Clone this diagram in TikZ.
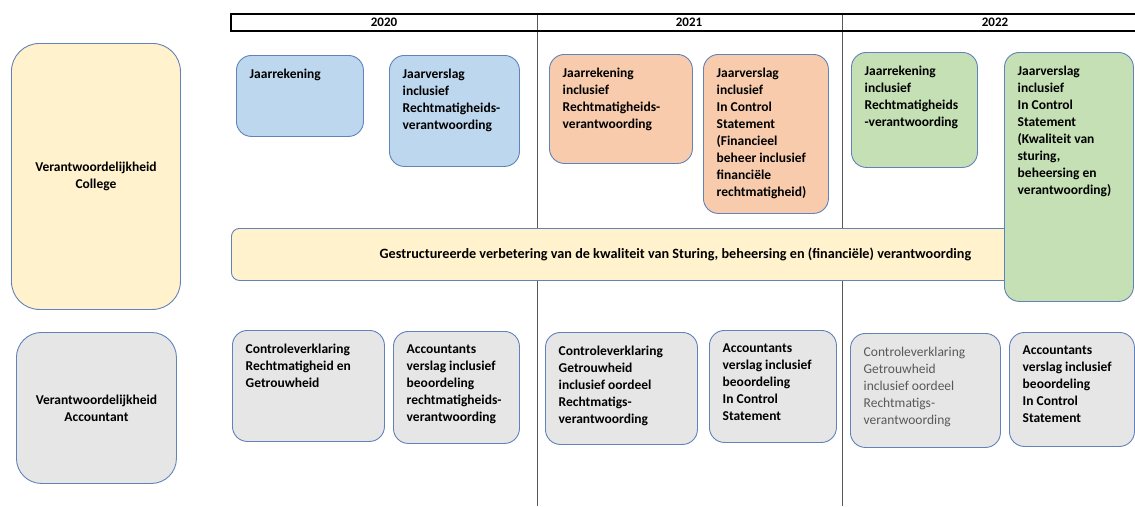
\documentclass[tikz,border=0pt]{standalone}
\usepackage{fontspec}
\setmainfont{Carlito}
\usetikzlibrary{positioning}

\definecolor{cardblue}{HTML}{BDD7EE}
\definecolor{cardorange}{HTML}{F8CBAD}
\definecolor{cardgreen}{HTML}{C5E0B4}
\definecolor{cardyellow}{HTML}{FFF2CC}
\definecolor{cardgray}{HTML}{E7E6E6}
\definecolor{cardedge}{HTML}{6282BA}
\definecolor{dividergray}{HTML}{595959}
\definecolor{fadedtext}{HTML}{595959}

\tikzset{
  card/.style={draw=cardedge, line width=0.9pt, rounded corners=15pt,
    anchor=north west, inner sep=0pt},
  cardtext/.style={align=left, inner sep=0pt,
    font=\bfseries\fontsize{13.5}{17}\selectfont},
  sidetext/.style={align=center, inner sep=0pt,
    font=\bfseries\fontsize{13.5}{17}\selectfont},
  bannertext/.style={inner sep=0pt, font=\bfseries\fontsize{14.2}{17}\selectfont},
  yearlabel/.style={inner sep=0pt, font=\bfseries\fontsize{13}{15}\selectfont},
  divider/.style={draw=dividergray, line width=0.8pt},
  yearframe/.style={draw=black, line width=1.8pt}
}

\begin{document}
\begin{tikzpicture}[x=1pt,y=-1pt]

        \useasboundingbox (0,0) rectangle (1135,506);

        % year columns
        \draw[divider] (537,14) -- (537,506);
        \draw[divider] (842,14) -- (842,506);
        \draw[yearframe] (1140,14) -- (231,14) -- (231,31) -- (1140,31);

        \node[yearlabel] (y2020) at (384,22.5) {2020};
        \node[yearlabel] (y2021) at (689,22.5) {2021};
        \node[yearlabel] (y2022) at (995,22.5) {2022};

        % responsibilities
        \node[card, fill=cardyellow, rounded corners=28pt,
              minimum width=169pt, minimum height=266pt] (college) at (11,43) {};
        \node[sidetext] (collegetxt) at (college.center) {Verantwoordelijkheid\\College};

        \node[card, fill=cardgray, rounded corners=25pt,
              minimum width=160pt, minimum height=151pt] (accountant) at (16,332) {};
        \node[sidetext] (accountanttxt) at (accountant.center) {Verantwoordelijkheid\\Accountant};

        % improvement banner
        \node[card, fill=cardyellow, rounded corners=8pt,
              minimum width=888pt, minimum height=52pt] (banner) at (231,228) {};
        \node[bannertext] (bannertxt) at (banner.center)
              {Gestructureerde verbetering van de kwaliteit van Sturing, beheersing en (financiële) verantwoording};

        % college products
        \node[card, fill=cardblue, minimum width=127pt, minimum height=81pt] (jr20) at (236,55) {};
        \node[card, fill=cardblue, minimum width=130pt, minimum height=111pt] (jv20) at (389,55) {};
        \node[card, fill=cardorange, minimum width=143pt, minimum height=109pt] (jr21) at (549,54) {};
        \node[card, fill=cardorange, minimum width=125pt, minimum height=159pt] (jv21) at (703,54) {};
        \node[card, fill=cardgreen, minimum width=126pt, minimum height=115pt] (jr22) at (851,52) {};
        \node[card, fill=cardgreen, minimum width=129pt, minimum height=249pt] (jv22) at (1004,52) {};

        \node[cardtext, below right=14pt and 13.5pt of jr20.north west] (jr20txt) {Jaarrekening};
        \node[cardtext, below right=14pt and 13.5pt of jv20.north west] (jv20txt)
              {Jaarverslag\\inclusief\\Rechtmatigheids-\\verantwoording};
        \node[cardtext, below right=14pt and 13.5pt of jr21.north west] (jr21txt)
              {Jaarrekening\\inclusief\\Rechtmatigheids-\\verantwoording};
        \node[cardtext, below right=14pt and 13.5pt of jv21.north west] (jv21txt)
              {Jaarverslag\\inclusief\\In Control\\Statement\\(Financieel\\beheer inclusief\\financiële\\rechtmatigheid)};
        \node[cardtext, below right=14pt and 13.5pt of jr22.north west] (jr22txt)
              {Jaarrekening\\inclusief\\Rechtmatigheids\\-verantwoording};
        \node[cardtext, below right=14pt and 13.5pt of jv22.north west] (jv22txt)
              {Jaarverslag\\inclusief\\In Control\\Statement\\(Kwaliteit van\\sturing,\\beheersing en\\verantwoording)};

        % accountant products
        \node[card, fill=cardgray, minimum width=152pt, minimum height=111pt] (ca20) at (232,330) {};
        \node[card, fill=cardgray, minimum width=126pt, minimum height=112pt] (aa20) at (393,331) {};
        \node[card, fill=cardgray, minimum width=152pt, minimum height=112pt] (ca21) at (545,332) {};
        \node[card, fill=cardgray, minimum width=127pt, minimum height=112pt] (aa21) at (709,330) {};
        \node[card, fill=cardgray, minimum width=150pt, minimum height=114pt] (ca22) at (850,333) {};
        \node[card, fill=cardgray, minimum width=125pt, minimum height=114pt] (aa22) at (1009,332) {};

        \node[cardtext, below right=14pt and 13.5pt of ca20.north west] (ca20txt)
              {Controleverklaring\\Rechtmatigheid en\\Getrouwheid};
        \node[cardtext, below right=14pt and 13.5pt of aa20.north west] (aa20txt)
              {Accountants\\verslag inclusief\\beoordeling\\rechtmatigheids-\\verantwoording};
        \node[cardtext, below right=14pt and 13.5pt of ca21.north west] (ca21txt)
              {Controleverklaring\\Getrouwheid\\inclusief oordeel\\Rechtmatigs-\\verantwoording};
        \node[cardtext, below right=14pt and 13.5pt of aa21.north west] (aa21txt)
              {Accountants\\verslag inclusief\\beoordeling\\In Control\\Statement};
        \node[cardtext, font=\fontsize{13.5}{17}\selectfont, text=fadedtext,
              below right=14pt and 13.5pt of ca22.north west] (ca22txt)
              {Controleverklaring\\Getrouwheid\\inclusief oordeel\\Rechtmatigs-\\verantwoording};
        \node[cardtext, below right=14pt and 13.5pt of aa22.north west] (aa22txt)
              {Accountants\\verslag inclusief\\beoordeling\\In Control\\Statement};

\end{tikzpicture}
\end{document}
